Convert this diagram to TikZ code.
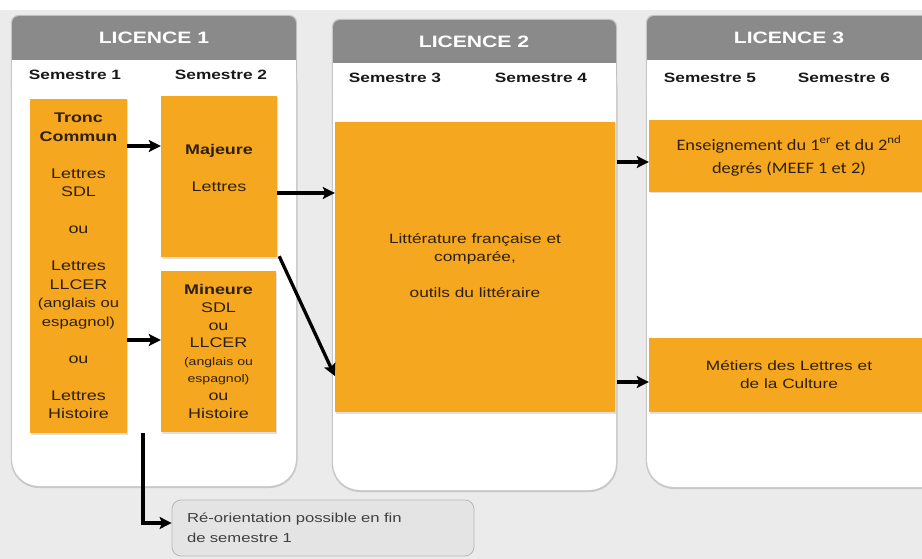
\documentclass[tikz,border=0pt]{standalone}
\usepackage{fontspec}
\setmainfont{Liberation Sans}[FakeStretch=1.28]
\newfontfamily\calib{Carlito}[FakeStretch=1.15]
\usetikzlibrary{arrows.meta,shadows}
\definecolor{bg}{HTML}{EBEBEB}
\definecolor{hdr}{HTML}{8A8A8A}
\definecolor{org}{HTML}{F5A71F}
\definecolor{otxt}{HTML}{2E200A}
\definecolor{rim}{HTML}{C8C8C8}
\definecolor{reofill}{HTML}{E4E4E4}
\definecolor{reoline}{HTML}{B8B8B8}
\tikzset{
  obox/.style={fill=org, draw=none, text=otxt, align=center, inner sep=0pt,
     drop shadow={shadow xshift=1pt, shadow yshift=-1.5pt, opacity=0.25}},
  hdrtxt/.style={text=white, font=\fontsize{16.5}{18}\selectfont\bfseries},
  semtxt/.style={text=black!90, font=\fontsize{13.5}{16}\selectfont\bfseries},
  arr/.style={line width=3.3pt, -{Stealth[length=12pt,width=12pt,inset=2.5pt]}, black},
}
\begin{document}
\begin{tikzpicture}[x=1pt,y=-1pt]
\useasboundingbox (0,0) rectangle (922,559);
\clip (0,0) rectangle (922,559);
\fill[white] (0,0) rectangle (922,559);
\fill[bg] (0,10) rectangle (922,559);
% panels
\foreach \xa/\xb/\tp/\hb/\bt in {12/296/16/60/486, 333/616/20/63/490, 647/960/16/60/487}{
  \fill[rim, rounded corners=8] (\xa-1.2,\tp-1.2) rectangle (\xb+1.2,\tp+80);
  \fill[rim, rounded corners=28] (\xa-1.2,\tp+40) rectangle (\xb+1.5,\bt+2);
  \fill[white, rounded corners=27] (\xa,\tp+40) rectangle (\xb,\bt);
  \fill[hdr, rounded corners=7] (\xa,\tp) rectangle (\xb,\hb+20);
  \fill[white] (\xa,\hb) rectangle (\xb,\hb+45);
}
% headers
\node[hdrtxt] (h1) at (154,38) {LICENCE 1};
\node[hdrtxt] (h2) at (474,42) {LICENCE 2};
\node[hdrtxt] (h3) at (789,38) {LICENCE 3};
\node[semtxt] (s1) at (75,75) {Semestre 1};
\node[semtxt] (s2) at (221,75) {Semestre 2};
\node[semtxt] (s3) at (395,78) {Semestre 3};
\node[semtxt] (s4) at (541,78) {Semestre 4};
\node[semtxt] (s5) at (710,78) {Semestre 5};
\node[semtxt] (s6) at (844,78) {Semestre 6};
% orange boxes
\node[obox, minimum width=97, minimum height=334, font=\fontsize{14}{18.5}\selectfont] (tronc) at (78.5,266)
 {{\bfseries Tronc}\\{\bfseries Commun}\\[18.5pt]Lettres\\SDL\\[18.5pt]ou\\[18.5pt]Lettres\\LLCER\\
  {\fontsize{13}{18.5}\selectfont (anglais ou}\\{\fontsize{13}{18.5}\selectfont espagnol)}\\[18.5pt]ou\\[18.5pt]Lettres\\Histoire};
\node[obox, minimum width=116, minimum height=161] (maj) at (219,176.5) {};
\node[text=otxt, align=center, font=\fontsize{14}{18.5}\selectfont] (majT) at (219,168)
 {{\bfseries Majeure}\\[18.5pt]Lettres};
\node[obox, minimum width=115, minimum height=161, font=\fontsize{14}{17.6}\selectfont] (min) at (218.5,351.5)
 {{\bfseries Mineure}\\SDL\\ou\\LLCER\\{\fontsize{11}{17.6}\selectfont (anglais ou}\\{\fontsize{11}{17.6}\selectfont espagnol)}\\ou\\Histoire};
\node[obox, minimum width=280, minimum height=290] (l2) at (475,267) {};
\node[text=otxt, align=center, font=\fontsize{13.5}{18}\selectfont] (l2T) at (475,266)
 {Littérature française et\\comparée,\\[18pt]outils du littéraire};
\node[obox, minimum width=291, minimum height=72] (l3a) at (794.5,156) {};
\node[text=otxt, align=center, font=\calib\fontsize{16}{23}\selectfont] (l3aT) at (789,156)
 {Enseignement du 1\textsuperscript{er} et du 2\textsuperscript{nd}\\degrés (MEEF 1 et 2)};
\node[obox, minimum width=291, minimum height=74] (l3b) at (794.5,375) {};
\node[text=otxt, align=center, font=\fontsize{13.5}{18}\selectfont] (l3bT) at (789,375)
 {Métiers des Lettres et\\de la Culture};
% reorientation
\node[fill=reofill, draw=reoline, line width=0.8pt, rounded corners=9, minimum width=302, minimum height=56,
      text width=272, inner xsep=15, align=left, text=black!75, font=\fontsize{13}{20}\selectfont] (reo) at (323,528)
 {Ré-orientation possible en fin\\de semestre 1};
% arrows
\draw[arr] (tronc.east |- 0,146) -- (maj.west |- 0,146);
\draw[arr] (tronc.east |- 0,340) -- (min.west |- 0,340);
\draw[arr] (maj.east |- 0,193) -- (l2.west |- 0,193);
\draw[arr] ([xshift=2pt,yshift=1pt]maj.south east) -- (l2.west |- 0,376);
\draw[arr] ([xshift=2pt]l2.east |- 0,162) -- (l3a.west |- 0,162);
\draw[arr] ([xshift=2pt]l2.east |- 0,382) -- (l3b.west |- 0,382);
\coordinate (reoStart) at (143,433);
\draw[arr] (reoStart) |- ([yshift=5pt]reo.west);
\end{tikzpicture}
\end{document}
